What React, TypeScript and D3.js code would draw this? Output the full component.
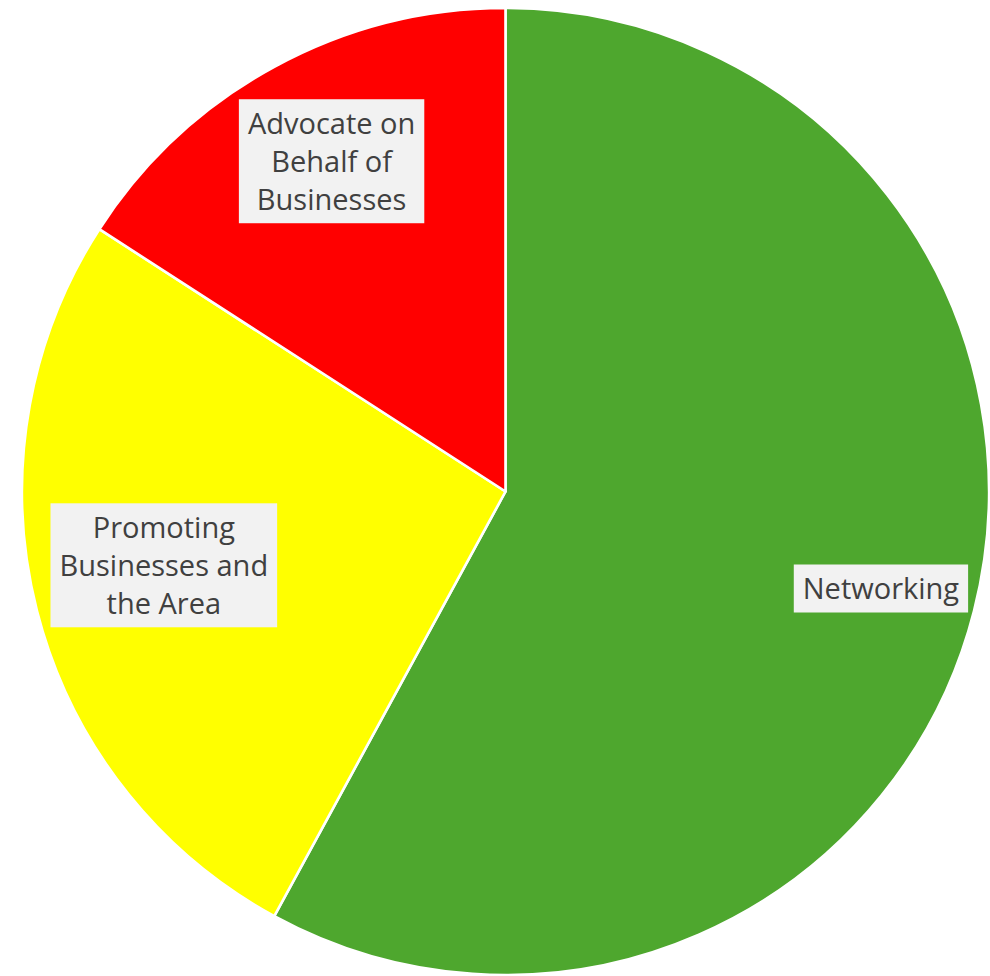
import React, { useEffect, useRef } from "react";
import * as d3 from "d3";

const categories = ["Networking", "Promoting Businesses and the Area", "Advocate on Behalf of Businesses"];
const values = [73, 33, 20];
const labelLines = [["Networking"], ["Promoting", "Businesses and", "the Area"], ["Advocate on", "Behalf of", "Businesses"]];
const colors = ["#4EA72E", "#FFFF00", "#FF0000"];
// label placement: radius factor and angular shift (degrees)
const labelLayout = [
  [0.802, 0.2],
  [0.723, 2.1],
  [0.772, 0.8],
];

const W = 990;
const H = 976;
const CX = 505.5;
const CY = 491.5;
const R = 483.5;
const FONT = 29;
const LINE = 38;

export default function App() {
  const ref = useRef<SVGSVGElement>(null);
  useEffect(() => {
    const svg = d3.select(ref.current);
    svg.selectAll("*").remove();
    const g = svg.append("g").attr("transform", `translate(${CX},${CY})`);
    const data = categories.map((c, i) => ({ c, v: values[i], i }));
    const pie = d3.pie<any>().value((d) => d.v).sort(null);
    const arcs = pie(data);
    const arc = d3.arc<any>().innerRadius(0).outerRadius(R);
    g.selectAll("path.slice")
      .data(arcs)
      .join("path")
      .attr("class", "slice")
      .attr("d", arc as any)
      .attr("fill", (d: any) => colors[d.data.i])
      .attr("stroke", "#ffffff")
      .attr("stroke-width", 2.6)
      .attr("stroke-linejoin", "round");

    arcs.forEach((a: any) => {
      const i = a.data.i;
      const [rf, shift] = labelLayout[i];
      const ang = (a.startAngle + a.endAngle) / 2 + (shift * Math.PI) / 180;
      const lr = R * rf;
      const x = lr * Math.sin(ang);
      const y = -lr * Math.cos(ang);
      const lines = labelLines[i];
      const lg = g.append("g").attr("transform", `translate(${x},${y})`);
      const rect = lg.append("rect").attr("fill", "#F2F2F2");
      const text = lg
        .append("text")
        .attr("text-anchor", "middle")
        .attr("font-family", "'Open Sans', sans-serif")
        .attr("font-size", FONT)
        .attr("fill", "#404040");
      const n = lines.length;
      lines.forEach((ln, k) => {
        text
          .append("tspan")
          .attr("x", 0)
          .attr("y", (k - (n - 1) / 2) * LINE)
          .attr("dy", "0.36em")
          .text(ln);
      });
      let maxW = 0;
      text.selectAll<SVGTSpanElement, unknown>("tspan").each(function () {
        maxW = Math.max(maxW, this.getComputedTextLength());
      });
      const bw = maxW + 18;
      const bh = n * LINE + 10;
      rect.attr("x", -bw / 2).attr("y", -bh / 2).attr("width", bw).attr("height", bh);
    });
  }, []);
  return (
    <svg ref={ref} width={W} height={H} style={{ display: "block", position: "absolute", left: 0, top: 0 }} />
  );
}
